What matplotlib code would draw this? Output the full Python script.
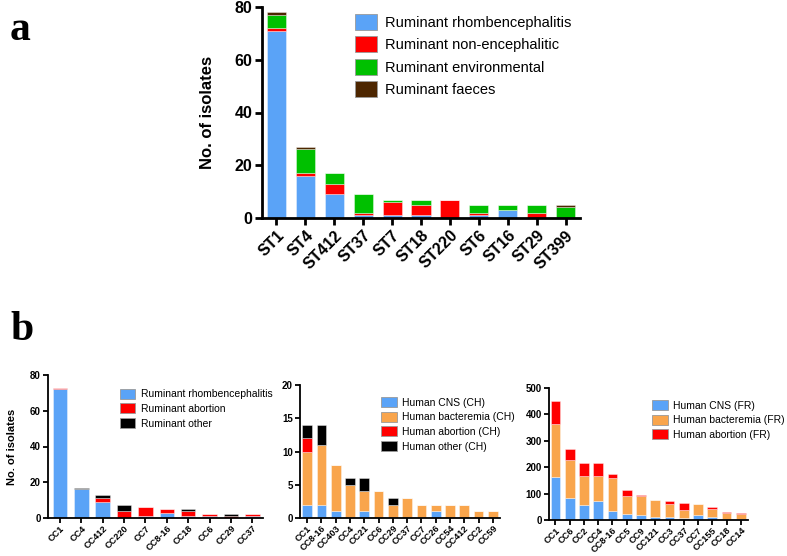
import matplotlib
matplotlib.use("Agg")
import matplotlib.pyplot as plt
import numpy as np

plt.rcParams['font.family'] = ['Liberation Sans', 'DejaVu Sans']

# ---------------- Panel a data ----------------
st_labels = ["ST1", "ST4", "ST412", "ST37", "ST7", "ST18", "ST220", "ST6", "ST16", "ST29", "ST399"]
a_rhomb = [71, 16, 9, 1, 1, 1, 0, 1, 3, 0, 0]
a_nonenc = [1, 1, 4, 1, 5, 4, 7, 1, 0, 2, 0]
a_env = [5, 9, 4, 7, 1, 2, 0, 3, 2, 3, 4]
a_faeces = [1, 1, 0, 0, 0, 0, 0, 0, 0, 0, 1]
a_series_names = ["Ruminant rhombencephalitis", "Ruminant non-encephalitic",
                  "Ruminant environmental", "Ruminant faeces"]

# ---------------- Panel b left ----------------
bl_labels = ["CC1", "CC4", "CC412", "CC220", "CC7", "CC8-16", "CC18", "CC6", "CC29", "CC37"]
bl_rhomb = [72, 16, 9, 0, 1, 3, 1, 1, 0, 1]
bl_abort = [1, 0, 2, 4, 5, 2, 3, 1, 1, 1]
bl_other = [0, 1, 2, 3, 0, 0, 1, 0, 1, 0]
bl_names = ["Ruminant rhombencephalitis", "Ruminant abortion", "Ruminant other"]

# ---------------- Panel b middle (CH) ----------------
bm_labels = ["CC1", "CC8-16", "CC403", "CC4", "CC21", "CC6", "CC29", "CC37", "CC7",
             "CC26", "CC54", "CC412", "CC2", "CC59"]
bm_cns = [2, 2, 1, 0, 1, 0, 0, 0, 0, 1, 0, 0, 0, 0]
bm_bact = [8, 9, 7, 5, 3, 4, 2, 3, 2, 1, 2, 2, 1, 1]
bm_abort = [2, 0, 0, 0, 0, 0, 0, 0, 0, 0, 0, 0, 0, 0]
bm_other = [2, 3, 0, 1, 2, 0, 1, 0, 0, 0, 0, 0, 0, 0]
bm_names = ["Human CNS (CH)", "Human bacteremia (CH)", "Human abortion (CH)", "Human other (CH)"]

# ---------------- Panel b right (FR) ----------------
br_labels = ["CC1", "CC6", "CC2", "CC4", "CC8-16", "CC5", "CC9", "CC121", "CC3", "CC37",
             "CC7", "CC155", "CC18", "CC14"]
br_cns = [162, 82, 57, 72, 35, 23, 18, 13, 13, 7, 18, 12, 3, 3]
br_bact = [200, 146, 111, 93, 125, 67, 72, 61, 47, 31, 42, 30, 25, 19]
br_abort = [88, 40, 49, 50, 15, 23, 5, 0, 11, 25, 2, 8, 2, 3]
br_names = ["Human CNS (FR)", "Human bacteremia (FR)", "Human abortion (FR)"]

BLUE = "#5aa3f7"
RED = "#ff0000"
GREEN = "#00c000"
BROWN = "#4d2600"
ORANGE = "#f9a54c"
BLACK = "#000000"

W, H = 787, 556
fig = plt.figure(figsize=(W / 100, H / 100), dpi=100)


def add_axes(l, r, t, b):
    return fig.add_axes([l / W, 1 - b / H, (r - l) / W, (b - t) / H])


def stacked(ax, labels, series, colors, names, width, ylim, yticks, xlim,
            tick_fs, lw, leg_kw, ylabel=None, ylabel_fs=8, edge_lw=0.6,
            xtick_fs=None, xpad=2):
    x = np.arange(len(labels))
    bottom = np.zeros(len(labels))
    handles = []
    for vals, c, n in zip(series, colors, names):
        vals = np.array(vals, dtype=float)
        h = ax.bar(x, vals, width, bottom=bottom, color=c, label=n,
                   edgecolor=(1, 1, 1, 0.45), linewidth=edge_lw)
        handles.append(h)
        bottom += vals
    ax.set_xlim(*xlim)
    ax.set_ylim(*ylim)
    ax.set_yticks(yticks)
    ax.set_xticks(x)
    ax.set_xticklabels(labels, rotation=45, ha='right', rotation_mode='anchor',
                       fontweight='bold', fontsize=xtick_fs or tick_fs)
    for t in ax.get_yticklabels():
        t.set_fontweight('bold')
        t.set_fontsize(tick_fs)
    for s in ['top', 'right']:
        ax.spines[s].set_visible(False)
    for s in ['left', 'bottom']:
        ax.spines[s].set_linewidth(lw)
    ax.tick_params(width=lw, length=lw * 2.5, direction='out', pad=2)
    ax.tick_params(axis='x', pad=xpad)
    if ylabel:
        ax.set_ylabel(ylabel, fontweight='bold', fontsize=ylabel_fs)
    leg = ax.legend(handles=handles, frameon=False, **leg_kw)
    for p in leg.get_patches():
        p.set_edgecolor('#9a9a9a')
        p.set_linewidth(0.6)
    return ax


# Panel a
axa = add_axes(262, 580, 7, 218)
stacked(axa, st_labels, [a_rhomb, a_nonenc, a_env, a_faeces],
        [BLUE, RED, GREEN, BROWN], a_series_names, 0.66,
        (0, 80), [0, 20, 40, 60, 80], (-0.5, 10.5), 11.5, 2.0,
        dict(loc='upper left', bbox_to_anchor=(0.25, 1.03), fontsize=10.5,
             handlelength=1.5, handleheight=1.3, labelspacing=0.45, handletextpad=0.6),
        ylabel="No. of isolates", ylabel_fs=12)
axa.yaxis.labelpad = 14

# Panel b left
axl = add_axes(48, 263, 375, 518)
stacked(axl, bl_labels, [bl_rhomb, bl_abort, bl_other], [BLUE, RED, BLACK], bl_names,
        0.68, (0, 80), [0, 20, 40, 60, 80], (-0.56, 9.5), 7.0, 1.3,
        dict(loc='upper left', bbox_to_anchor=(0.29, 0.97), fontsize=7.5,
             handlelength=1.5, handleheight=1.1, labelspacing=0.4, handletextpad=0.5),
        ylabel="No. of isolates", ylabel_fs=8, xtick_fs=6.6, xpad=1)
axl.yaxis.labelpad = 9

# Panel b middle
axm = add_axes(300, 500, 385, 518)
stacked(axm, bm_labels, [bm_cns, bm_bact, bm_abort, bm_other],
        [BLUE, ORANGE, RED, BLACK], bm_names, 0.68, (0, 20), [0, 5, 10, 15, 20],
        (-0.5, 13.5), 7.0, 1.3,
        dict(loc='upper left', bbox_to_anchor=(0.36, 0.98), fontsize=7.5,
             handlelength=1.5, handleheight=1.1, labelspacing=0.4, handletextpad=0.5),
        xtick_fs=6.6, xpad=1)

# Panel b right
axr = add_axes(549, 748, 388, 520)
stacked(axr, br_labels, [br_cns, br_bact, br_abort], [BLUE, ORANGE, RED], br_names,
        0.68, (0, 500), [0, 100, 200, 300, 400, 500], (-0.45, 13.5), 7.0, 1.3,
        dict(loc='upper left', bbox_to_anchor=(0.47, 0.98), fontsize=7.5,
             handlelength=1.5, handleheight=1.1, labelspacing=0.4, handletextpad=0.5),
        xtick_fs=6.6, xpad=1)

# Panel letters
fig.text(10 / W, 1 - 40 / H, "a", fontsize=30, fontweight='bold',
         family=['Liberation Serif', 'DejaVu Serif'])
fig.text(10 / W, 1 - 340 / H, "b", fontsize=30, fontweight='bold',
         family=['Liberation Serif', 'DejaVu Serif'])

fig.savefig("out.png", dpi=100)
